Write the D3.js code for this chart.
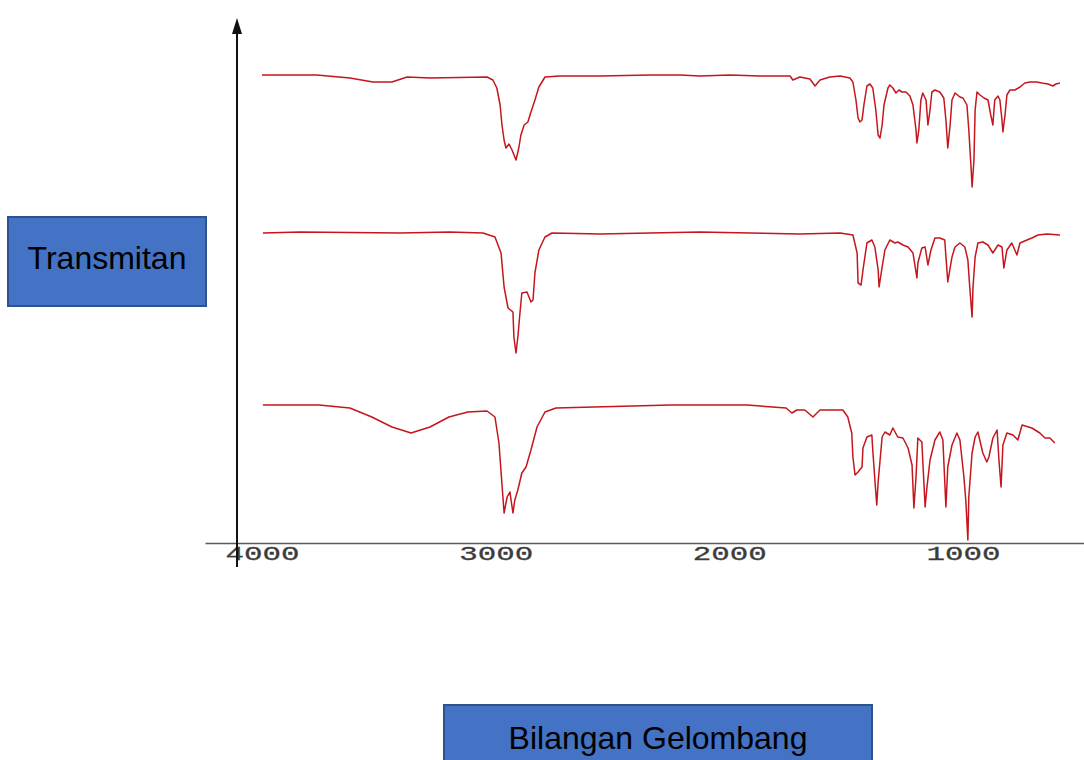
<!DOCTYPE html>
<html>
<head>
<meta charset="utf-8">
<script src="https://cdn.jsdelivr.net/npm/d3@7"></script>
<style>
  html, body { margin: 0; padding: 0; background: #ffffff; }
  svg { display: block; }
</style>
</head>
<body>
<svg id="chart" width="1084" height="760"></svg>
<script>
// ---- Data (wavenumber cm^-1, stacked transmittance units) ----
const xTickValues = [4000, 3000, 2000, 1000];
const xTickLabels = ["4000", "3000", "2000", "1000"];
const yAxisLabel = "Transmitan";
const xAxisLabel = "Bilangan Gelombang";

const spectrumTop = [
  [4000,93.6],[3765,93.6],[3624,93.0],[3525,92.2],[3444,92.2],[3379,93.2],[3281,93.0],[3037,93.2],
  [3012,92.6],[2995,91.0],[2981,87.6],[2973,83.6],[2964,80.6],[2956,79.0],[2943,79.8],[2930,78.6],
  [2913,76.6],[2901,79.0],[2892,81.6],[2878,83.6],[2862,84.2],[2849,86.2],[2832,88.6],[2815,91.2],
  [2789,93.2],[2725,93.4],[2553,93.4],[2340,93.6],[2211,93.6],[2126,93.4],[1998,93.6],[1868,93.4],
  [1740,93.4],[1728,92.6],[1698,93.2],[1655,92.8],[1633,91.4],[1612,92.6],[1570,93.2],[1526,93.4],
  [1484,93.0],[1471,92.2],[1458,88.6],[1449,85.0],[1441,84.2],[1432,84.6],[1424,87.6],[1411,91.4],
  [1398,91.8],[1386,91.0],[1373,86.6],[1363,81.6],[1355,81.0],[1346,83.6],[1338,87.6],[1321,91.0],
  [1313,91.6],[1300,91.0],[1287,90.0],[1274,90.6],[1261,90.2],[1244,90.2],[1227,89.4],[1214,87.6],
  [1201,82.6],[1197,80.0],[1189,82.6],[1180,88.6],[1172,90.0],[1158,88.6],[1150,83.6],[1141,86.6],
  [1133,90.2],[1120,90.6],[1099,90.2],[1082,89.0],[1073,84.6],[1065,79.0],[1055,83.6],[1047,88.6],
  [1034,90.0],[1013,89.2],[1000,89.0],[983,87.6],[975,82.6],[966,75.6],[961,71.2],[953,76.6],
  [948,86.6],[940,90.2],[927,89.6],[910,89.0],[893,88.6],[881,85.6],[872,83.6],[864,88.6],
  [850,89.4],[842,88.6],[833,84.6],[829,82.2],[820,85.6],[812,89.6],[799,90.6],[778,90.6],
  [756,91.2],[735,92.0],[713,92.2],[684,92.2],[663,92.0],[636,91.8],[615,91.4],[602,91.8],[585,92.0]
];

const spectrumMiddle = [
  [3996,62.0],[3838,62.2],[3410,62.0],[3196,62.2],[3054,62.0],[3003,61.2],[2977,58.0],[2964,51.2],
  [2947,47.0],[2926,46.2],[2922,41.2],[2913,38.0],[2905,41.2],[2896,46.0],[2888,50.0],[2866,50.2],
  [2849,48.2],[2840,48.6],[2832,54.0],[2815,58.6],[2789,61.2],[2759,62.0],[2553,61.8],[2340,62.0],
  [2126,62.2],[1912,62.0],[1698,61.8],[1526,62.0],[1471,61.6],[1453,58.0],[1449,52.0],[1436,51.6],
  [1428,54.6],[1411,60.0],[1390,60.6],[1377,59.2],[1363,54.6],[1359,51.2],[1346,55.2],[1334,58.6],
  [1313,60.6],[1291,60.0],[1279,60.2],[1257,59.6],[1235,59.2],[1214,58.0],[1197,53.0],[1193,56.0],
  [1176,59.0],[1162,59.2],[1150,55.6],[1137,58.6],[1120,61.0],[1099,61.0],[1078,60.6],[1065,52.2],
  [1047,57.2],[1034,59.2],[1013,60.0],[992,59.2],[979,56.6],[971,51.2],[961,45.2],[957,51.2],
  [948,57.2],[936,60.0],[915,60.2],[893,59.6],[872,58.0],[850,59.6],[833,59.2],[825,55.0],
  [812,58.6],[791,60.0],[769,57.6],[756,60.0],[726,60.6],[705,61.0],[679,61.6],[640,61.8],[585,61.6]
];

const spectrumBottom = [
  [3996,27.6],[3756,27.6],[3624,27.0],[3530,25.2],[3444,23.2],[3362,22.0],[3281,23.2],[3200,25.2],
  [3119,26.2],[3037,26.4],[3003,25.2],[2986,20.0],[2968,8.6],[2964,6.0],[2951,9.2],[2939,10.2],
  [2926,6.0],[2918,8.6],[2905,10.6],[2888,14.0],[2870,15.2],[2849,18.6],[2823,23.2],[2789,26.2],
  [2742,27.0],[2580,27.2],[2250,27.6],[1925,27.6],[1757,27.0],[1732,26.0],[1711,26.6],[1677,26.6],
  [1642,25.2],[1612,26.6],[1514,26.6],[1493,25.2],[1476,22.0],[1471,17.2],[1462,13.6],[1449,14.2],
  [1432,15.2],[1428,19.0],[1411,21.2],[1390,21.6],[1386,18.6],[1377,12.6],[1369,7.6],[1363,12.2],
  [1346,21.2],[1334,22.2],[1313,21.6],[1300,23.0],[1279,21.2],[1257,21.0],[1235,19.0],[1218,15.6],
  [1210,7.0],[1201,13.2],[1193,21.0],[1176,20.2],[1162,7.2],[1154,11.2],[1141,16.6],[1120,20.6],
  [1099,22.2],[1086,20.6],[1073,7.2],[1065,15.2],[1047,19.6],[1026,22.0],[1013,20.6],[996,13.2],
  [988,8.6],[979,0.6],[975,9.2],[961,18.0],[948,21.2],[936,22.2],[915,18.0],[898,16.2],
  [889,17.2],[872,21.0],[854,22.6],[846,16.6],[837,11.2],[829,19.6],[812,22.0],[786,21.6],
  [765,20.6],[747,23.6],[705,23.0],[671,22.0],[649,21.0],[628,21.0],[607,20.0]
];

const spectra = [spectrumTop, spectrumMiddle, spectrumBottom];

// ---- Drawing ----
const svg = d3.select("#chart");

const x = d3.scaleLinear().domain([4244, 482]).range([205, 1084]);
const y = d3.scaleLinear().domain([0, 100]).range([543, 43]);

// X axis
const xAxis = d3.axisBottom(x)
  .tickValues(xTickValues)
  .tickFormat((d, i) => xTickLabels[i])
  .tickSize(0)
  .tickPadding(3);

const gx = svg.append("g")
  .attr("transform", `translate(0,${y(0)})`)
  .call(xAxis);
gx.select(".domain").attr("stroke", "#5a5a5a").attr("stroke-width", 1.5);
gx.selectAll("text")
  .attr("fill", "#3c3c3c")
  .attr("stroke", "#3c3c3c")
  .attr("stroke-width", 0.3)
  .attr("textLength", 74)
  .attr("lengthAdjust", "spacingAndGlyphs")
  .style("font-family", "'Liberation Mono', 'DejaVu Sans Mono', monospace")
  .style("font-size", "20px");

// Y axis (vertical arrow)
const yAxisX = x(4107);
svg.append("line")
  .attr("x1", yAxisX).attr("x2", yAxisX)
  .attr("y1", 30).attr("y2", 567)
  .attr("stroke", "#111").attr("stroke-width", 2);
svg.append("path")
  .attr("d", d3.line()([[yAxisX, 18], [yAxisX - 5, 34], [yAxisX + 5, 34]]) + "Z")
  .attr("fill", "#111");

// Spectra
const line = d3.line()
  .x(d => x(d[0]))
  .y(d => y(d[1]))
  .curve(d3.curveLinear);

svg.append("g").selectAll("path")
  .data(spectra)
  .join("path")
  .attr("d", line)
  .attr("fill", "none")
  .attr("stroke", "#c4161c")
  .attr("stroke-width", 1.5)
  .attr("stroke-linejoin", "round");

// Label boxes
function labelBox(bx, by, bw, bh, text, ty, fs) {
  const g = svg.append("g");
  g.append("rect")
    .attr("x", bx).attr("y", by).attr("width", bw).attr("height", bh)
    .attr("fill", "#4472C4").attr("stroke", "#2F528F").attr("stroke-width", 2);
  g.append("text")
    .attr("x", bx + bw / 2).attr("y", ty)
    .attr("text-anchor", "middle")
    .attr("fill", "#000")
    .style("font-family", "'Liberation Sans', Arial, sans-serif")
    .style("font-size", fs + "px")
    .text(text);
}
labelBox(8, 217, 198, 89, yAxisLabel, 269, 32);
labelBox(444, 705, 428, 62, xAxisLabel, 749, 32);
</script>
</body>
</html>
